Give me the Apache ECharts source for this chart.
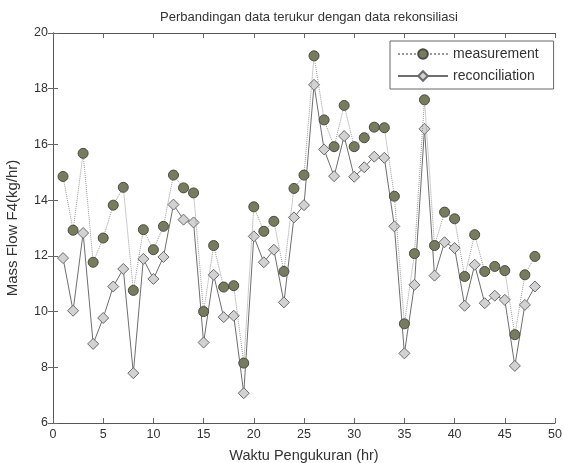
<!DOCTYPE html>
<html><head><meta charset="utf-8">
<script src="https://cdn.jsdelivr.net/npm/echarts@6/dist/echarts.min.js"></script>
<style>html,body{margin:0;padding:0;background:#fff}#c{width:564px;height:463px}</style>
</head><body><div id="c"></div>
<script>
const hours = [1,2,3,4,5,6,7,8,9,10,11,12,13,14,15,16,17,18,19,20,21,22,23,24,25,26,27,28,29,30,31,32,33,34,35,36,37,38,39,40,41,42,43,44,45,46,47,48];
const measurement = [14.85,12.92,15.68,11.77,12.64,13.82,14.46,10.76,12.94,12.22,13.06,14.9,14.44,14.26,10.0,12.37,10.88,10.93,8.15,13.76,12.88,13.24,11.44,14.42,14.9,19.18,16.88,15.92,17.4,15.92,16.24,16.62,16.6,14.14,9.56,12.08,17.6,12.37,13.57,13.33,11.26,12.76,11.44,11.62,11.47,9.17,11.32,11.98];
const reconciliation = [11.92,10.03,12.82,8.84,9.77,10.9,11.53,7.79,11.89,11.17,11.96,13.84,13.3,13.2,8.89,11.32,9.8,9.85,7.07,12.7,11.77,12.22,10.33,13.38,13.82,18.14,15.82,14.86,16.3,14.84,15.18,15.56,15.52,13.06,8.5,10.96,16.56,11.29,12.49,12.28,10.21,11.68,10.3,10.57,10.42,8.05,10.24,10.9];
const xTicks = {min:0,max:50,interval:5};
const yTicks = {min:6,max:20,interval:2};

const chart = echarts.init(document.getElementById('c'), null, {renderer:'canvas'});
const font = 'Liberation Sans, Arial, sans-serif';
const axisCommon = {
  axisLine:{show:true,lineStyle:{color:'#555',width:1}},
  axisTick:{show:true,inside:true,length:5,lineStyle:{color:'#666'}},
  splitLine:{show:false}
};
chart.setOption({
  animation:false,
  backgroundColor:'#fff',
  title:{text:'Perbandingan data terukur dengan data rekonsiliasi',left:304,textAlign:'center',top:6,
    textStyle:{fontFamily:font,fontSize:13,fontWeight:'normal',color:'#333'}},
  grid:{left:53,right:9,top:33,bottom:40,containLabel:false,outerBoundsMode:'none'},
  legend:{left:390,top:41,orient:'vertical',itemWidth:50,itemHeight:12,itemGap:8,
    padding:[6,15,6,7],borderColor:'#666',borderWidth:1,backgroundColor:'#fff',
    textStyle:{fontFamily:font,fontSize:14,color:'#333'},
    data:['measurement','reconciliation']},
  xAxis:[
    Object.assign({type:'value',min:xTicks.min,max:xTicks.max,interval:xTicks.interval,position:'bottom',
      name:'Waktu Pengukuran (hr)',nameLocation:'middle',nameGap:25,
      nameTextStyle:{fontFamily:font,fontSize:14.5,color:'#333'},
      axisLabel:{fontFamily:font,fontSize:12.5,color:'#333',margin:5}},axisCommon),
    Object.assign({type:'value',min:xTicks.min,max:xTicks.max,interval:xTicks.interval,position:'top',
      axisLabel:{show:false}},axisCommon)
  ],
  yAxis:[
    Object.assign({type:'value',min:yTicks.min,max:yTicks.max,interval:yTicks.interval,position:'left',
      name:'Mass Flow F4(kg/hr)',nameLocation:'middle',nameGap:33,nameRotate:90,
      nameTextStyle:{fontFamily:font,fontSize:15,color:'#333'},
      axisLabel:{fontFamily:font,fontSize:12.5,color:'#333',margin:5}},axisCommon),
    Object.assign({type:'value',min:yTicks.min,max:yTicks.max,interval:yTicks.interval,position:'right',
      axisLabel:{show:false}},axisCommon)
  ],
  series:[
    {name:'measurement',type:'line',xAxisIndex:0,yAxisIndex:0,
      data:hours.map((h,i)=>[h,measurement[i]]),
      symbol:'circle',symbolSize:10,
      lineStyle:{color:'#9a9a9a',width:1,type:'dotted'},
      itemStyle:{color:'#767d5c',borderColor:'#4a4a44',borderWidth:1},z:3},
    {name:'reconciliation',type:'line',xAxisIndex:0,yAxisIndex:0,
      data:hours.map((h,i)=>[h,reconciliation[i]]),
      symbol:'diamond',symbolSize:[11,11],
      lineStyle:{color:'#6e6e6e',width:1,type:'solid'},
      itemStyle:{color:'#d2d2d2',borderColor:'#6a6a6a',borderWidth:1},z:2}
  ]
});
</script></body></html>
